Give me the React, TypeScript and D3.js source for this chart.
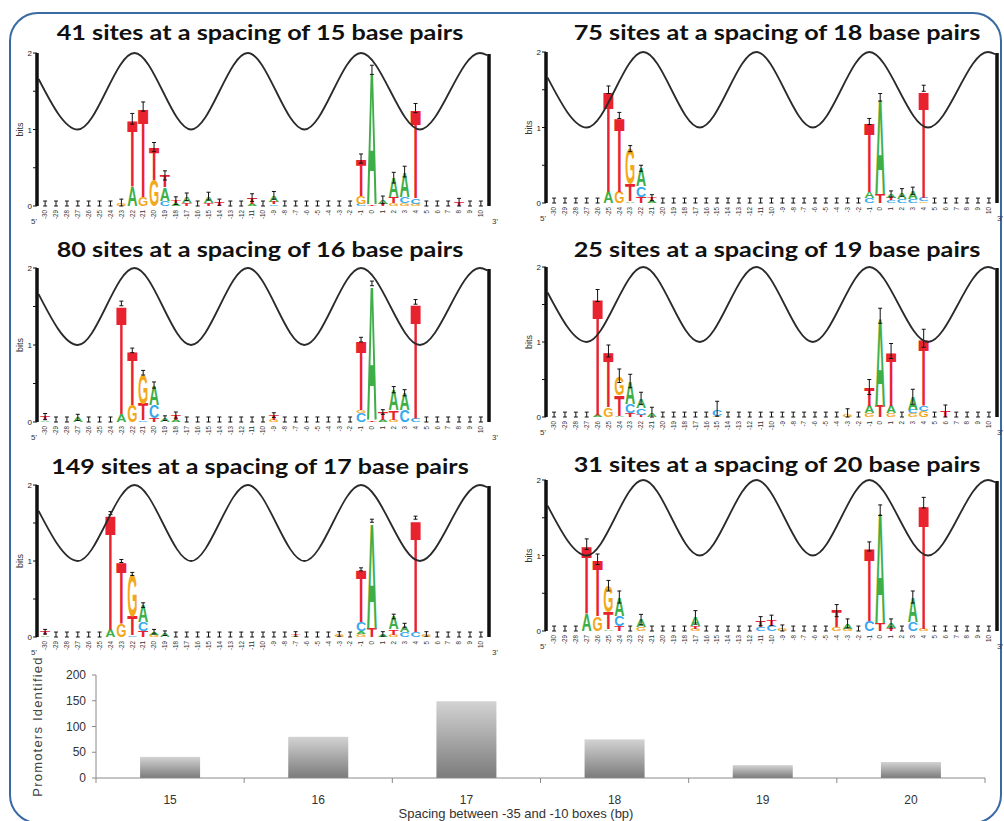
import React from 'react';
import * as d3 from 'd3';

// one logo column: [position, letters bottom->top as [base, bits], error half-length]
type Col = [number, [string, number][], number];

const positions = [-30, -29, -28, -27, -26, -25, -24, -23, -22, -21, -20, -19, -18, -17, -16, -15, -14, -13, -12, -11,
  -10, -9, -8, -7, -6, -5, -4, -3, -2, -1, 0, 1, 2, 3, 4, 5, 6, 7, 8, 9, 10];

// helix phase curve: extrema [position, bits]
const helixPoints: [number, number][] = [
  [-30.6, 1.66], [-27.0, 1.0], [-21.8, 2.0], [-16.6, 1.0], [-11.4, 2.0],
  [-6.2, 1.0], [-1.0, 2.0], [4.4, 1.0], [9.9, 2.0], [10.6, 1.97],
];

const logo15: Col[] = [
  [-23, [['G', 0.04]], 0.05],
  [-22, [['A', 0.25], ['T', 0.89]], 0.07],
  [-21, [['G', 0.12], ['T', 1.18]], 0.06],
  [-20, [['G', 0.34], ['T', 0.43]], 0.06],
  [-19, [['C', 0.07], ['A', 0.18], ['T', 0.15]], 0.06],
  [-18, [['A', 0.04], ['T', 0.03]], 0.05],
  [-17, [['T', 0.04], ['A', 0.08]], 0.05],
  [-15, [['T', 0.04], ['A', 0.09]], 0.05],
  [-14, [['T', 0.05]], 0.04],
  [-11, [['A', 0.03], ['T', 0.08]], 0.05],
  [-9, [['C', 0.02], ['T', 0.03], ['A', 0.09]], 0.05],
  [-1, [['C', 0.03], ['G', 0.1], ['T', 0.49]], 0.06],
  [0, [['T', 0.02], ['A', 1.76]], 0.06],
  [1, [['T', 0.03], ['A', 0.05]], 0.05],
  [2, [['G', 0.04], ['T', 0.08], ['A', 0.25]], 0.07],
  [3, [['G', 0.04], ['C', 0.08], ['A', 0.33]], 0.07],
  [4, [['G', 0.03], ['C', 0.07], ['T', 1.18]], 0.06],
  [8, [['T', 0.05]], 0.05],
];

const logo18: Col[] = [
  [-25, [['A', 0.15], ['T', 1.35]], 0.05],
  [-24, [['G', 0.15], ['T', 1.01]], 0.04],
  [-23, [['A', 0.02], ['T', 0.23], ['G', 0.47]], 0.04],
  [-22, [['T', 0.08], ['C', 0.14], ['A', 0.24]], 0.04],
  [-21, [['A', 0.04], ['T', 0.03]], 0.04],
  [-1, [['C', 0.07], ['A', 0.08], ['T', 0.93]], 0.04],
  [0, [['T', 0.12], ['A', 1.28]], 0.05],
  [1, [['C', 0.04], ['T', 0.03], ['A', 0.05]], 0.04],
  [2, [['C', 0.05], ['A', 0.09]], 0.05],
  [3, [['C', 0.05], ['A', 0.11]], 0.05],
  [4, [['G', 0.02], ['C', 0.05], ['T', 1.45]], 0.04],
];

const logo16: Col[] = [
  [-30, [['A', 0.02], ['T', 0.05]], 0.04],
  [-27, [['A', 0.06]], 0.04],
  [-23, [['A', 0.1], ['T', 1.44]], 0.03],
  [-22, [['G', 0.22], ['T', 0.71]], 0.03],
  [-21, [['C', 0.02], ['T', 0.22], ['G', 0.4]], 0.03],
  [-20, [['T', 0.05], ['C', 0.17], ['A', 0.26]], 0.04],
  [-19, [['A', 0.05]], 0.03],
  [-18, [['A', 0.03], ['T', 0.06]], 0.04],
  [-9, [['G', 0.03], ['T', 0.06]], 0.03],
  [-1, [['C', 0.12], ['G', 0.03], ['T', 0.92]], 0.03],
  [0, [['T', 0.02], ['A', 1.78]], 0.03],
  [1, [['A', 0.03], ['T', 0.1]], 0.03],
  [2, [['G', 0.03], ['T', 0.12], ['A', 0.27]], 0.04],
  [3, [['C', 0.15], ['A', 0.23]], 0.04],
  [4, [['C', 0.05], ['T', 1.51]], 0.03],
];

const logo19: Col[] = [
  [-26, [['A', 0.03], ['T', 1.59]], 0.08],
  [-25, [['G', 0.13], ['T', 0.75]], 0.08],
  [-24, [['A', 0.02], ['T', 0.28], ['G', 0.25]], 0.09],
  [-23, [['T', 0.05], ['C', 0.13], ['A', 0.3]], 0.09],
  [-22, [['T', 0.03], ['C', 0.09], ['A', 0.13]], 0.08],
  [-21, [['A', 0.05]], 0.08],
  [-15, [['G', 0.02], ['C', 0.09]], 0.1],
  [-3, [['G', 0.03]], 0.08],
  [-1, [['G', 0.05], ['A', 0.1], ['T', 0.25]], 0.1],
  [0, [['T', 0.15], ['A', 1.2]], 0.1],
  [1, [['G', 0.05], ['A', 0.1], ['T', 0.73]], 0.1],
  [3, [['G', 0.05], ['C', 0.05], ['A', 0.17]], 0.1],
  [4, [['G', 0.08], ['C', 0.07], ['T', 0.9]], 0.12],
  [6, [['T', 0.08]], 0.08],
];

const logo17: Col[] = [
  [-30, [['A', 0.02], ['T', 0.05]], 0.03],
  [-24, [['A', 0.1], ['T', 1.53]], 0.02],
  [-23, [['G', 0.18], ['T', 0.82]], 0.02],
  [-22, [['C', 0.02], ['T', 0.26], ['G', 0.55]], 0.02],
  [-21, [['T', 0.08], ['C', 0.12], ['A', 0.22]], 0.03],
  [-20, [['G', 0.03], ['A', 0.04]], 0.03],
  [-19, [['A', 0.05]], 0.03],
  [-7, [['G', 0.02], ['T', 0.02]], 0.03],
  [-3, [['G', 0.04]], 0.03],
  [-1, [['G', 0.04], ['A', 0.04], ['C', 0.12], ['T', 0.69]], 0.02],
  [0, [['T', 0.12], ['A', 1.41]], 0.02],
  [1, [['A', 0.04]], 0.03],
  [2, [['G', 0.03], ['T', 0.07], ['A', 0.17]], 0.03],
  [3, [['C', 0.07], ['A', 0.08]], 0.03],
  [4, [['C', 0.07], ['T', 1.5]], 0.02],
  [5, [['G', 0.04]], 0.03],
];

const logo20: Col[] = [
  [-27, [['A', 0.23], ['T', 0.92]], 0.07],
  [-26, [['G', 0.2], ['T', 0.75]], 0.07],
  [-25, [['A', 0.02], ['T', 0.23], ['G', 0.35]], 0.07],
  [-24, [['T', 0.07], ['C', 0.13], ['A', 0.25]], 0.08],
  [-22, [['G', 0.05], ['A', 0.1]], 0.07],
  [-17, [['G', 0.03], ['T', 0.03], ['A', 0.12]], 0.09],
  [-11, [['C', 0.05], ['T', 0.08]], 0.06],
  [-10, [['C', 0.08], ['T', 0.06]], 0.07],
  [-9, [['G', 0.03]], 0.05],
  [-4, [['G', 0.05], ['T', 0.22]], 0.08],
  [-3, [['G', 0.03], ['A', 0.07]], 0.06],
  [-1, [['C', 0.13], ['T', 0.99]], 0.06],
  [0, [['T', 0.1], ['A', 1.5]], 0.07],
  [1, [['T', 0.04], ['A', 0.06]], 0.06],
  [3, [['C', 0.12], ['A', 0.33]], 0.08],
  [4, [['G', 0.03], ['T', 1.67]], 0.07],
];

const siteCounts = [41, 75, 80, 25, 149, 31];
const panelSpacings = [15, 18, 16, 19, 17, 20];
const panelLogos = [logo15, logo18, logo16, logo19, logo17, logo20];

// bottom bar chart
const spacings = ['15', '16', '17', '18', '19', '20'];
const promoters = [41, 80, 149, 75, 25, 31];
const promoterTicks = [0, 50, 100, 150, 200];

// layout of the six logo panels (pixels)
const frames = [
  { x0: 37, x1: 489, top: 53, bottom: 206, titleX: 260, titleY: 40 },
  { x0: 546, x1: 997, top: 52, bottom: 203, titleX: 777, titleY: 40 },
  { x0: 37, x1: 489, top: 268, bottom: 422, titleX: 260, titleY: 257 },
  { x0: 546, x1: 997, top: 267, bottom: 417, titleX: 777, titleY: 257 },
  { x0: 37, x1: 489, top: 485, bottom: 637, titleX: 260, titleY: 474 },
  { x0: 546, x1: 997, top: 480, bottom: 631, titleX: 777, titleY: 472 },
];

const letterColor: Record<string, string> = { A: '#3dae48', C: '#38a9ee', G: '#f3a81c', T: '#e8222f' };
const advance: Record<string, number> = { A: 0.722, C: 0.722, G: 0.778, T: 0.611 };
const CAP = 0.716;
const FS = 100;
const SANS = "'Liberation Sans', Arial, sans-serif";

function LogoPanel({ idx }: { idx: number }) {
  const f = frames[idx];
  const cols = panelLogos[idx];
  const x = d3.scaleBand<number>().domain(positions).range([f.x0 + 3, f.x1 - 3]).paddingInner(0.06);
  const y = d3.scaleLinear().domain([0, 2]).range([f.bottom, f.top]);
  const xc = (p: number) => (x(p) as number) + x.bandwidth() / 2;
  const xLin = d3.scaleLinear()
    .domain([positions[0], positions[positions.length - 1]])
    .range([xc(positions[0]), xc(positions[positions.length - 1])]);
  const helix = d3.line<[number, number]>()
    .x(d => Math.max(f.x0, Math.min(f.x1, xLin(d[0]))))
    .y(d => y(d[1]))
    .curve(d3.curveMonotoneX);
  const byPos = new Map(cols.map(c => [c[0], c]));
  const bw = x.bandwidth();
  const title = `${siteCounts[idx]} sites at a spacing of ${panelSpacings[idx]} base pairs`;
  const isRight = f.x1 > 900;

  return (
    <g>
      <text x={f.titleX} y={f.titleY} textAnchor="middle" fontFamily="Lato, 'Open Sans', sans-serif"
        fontWeight={700} fontSize={21} fill="#111" textLength={title.length * 10.7}
        lengthAdjust="spacingAndGlyphs">{title}</text>

      {/* letters, error bars and position labels */}
      {positions.map(p => {
        const c = byPos.get(p);
        const center = xc(p);
        let base = 0;
        const letters = c ? c[1].map(([b, h], i) => {
          const y0 = y(base);
          const hPx = y0 - y(base + h);
          base += h;
          const sx = bw / (advance[b] * FS);
          const sy = hPx / (CAP * FS);
          return (
            <text key={i} transform={`translate(${center},${y0}) scale(${sx},${sy})`}
              textAnchor="middle" fontFamily={SANS} fontWeight={700}
              fontSize={FS} fill={letterColor[b]}>{b}</text>
          );
        }) : null;
        const top = c ? base : 0.03;
        const e = c ? c[2] : 0.035;
        const ya = y(Math.max(0, top - e));
        const yb = y(top + e);
        return (
          <g key={p}>
            {letters}
            <line x1={center} x2={center} y1={ya} y2={yb} stroke="#111" strokeWidth={1} />
            <line x1={center - 2} x2={center + 2} y1={yb} y2={yb} stroke="#111" strokeWidth={1} />
            <line x1={center - 2} x2={center + 2} y1={ya} y2={ya} stroke="#111" strokeWidth={1} />
            <text transform={`translate(${center + 2.3},${f.bottom + 4}) rotate(-90)`} textAnchor="end"
              fontFamily={SANS} fontSize={6.3} fill="#333">{p}</text>
          </g>
        );
      })}

      {/* helix curve */}
      <path d={helix(helixPoints) || ''} fill="none" stroke="#2a2a2a" strokeWidth={1.8} />

      {/* axes */}
      <line x1={f.x0} x2={f.x0} y1={f.top} y2={f.bottom} stroke="#111" strokeWidth={3.5} />
      <line x1={f.x1} x2={f.x1} y1={f.top + 1} y2={f.bottom} stroke="#111" strokeWidth={3.5} />
      {[0, 0.5, 1, 1.5, 2].map(t => (
        <line key={t} x1={f.x0 - 4} x2={f.x0} y1={y(t)} y2={y(t)} stroke="#111" strokeWidth={1} />
      ))}
      {[0, 1, 2].map(t => (
        <text key={t} x={f.x0 - 5} y={y(t) + 3} textAnchor="end" fontSize={8}
          fontFamily={SANS} fill="#222">{t}</text>
      ))}
      <text transform={`translate(${f.x0 - 14},${y(1)}) rotate(-90)`} textAnchor="middle" fontSize={9}
        fontFamily={SANS} fill="#333">bits</text>
      <text x={f.x0 - 3} y={f.bottom + 18} textAnchor="middle" fontSize={8}
        fontFamily={SANS} fill="#333">5'</text>
      <text x={isRight ? 1003 : f.x1 + 3} y={f.bottom + 18} textAnchor={isRight ? 'end' : 'start'} fontSize={8}
        fontFamily={SANS} fill="#333">3'</text>
    </g>
  );
}

function BarChart() {
  const x = d3.scaleBand<string>().domain(spacings).range([96, 985]).paddingInner(0.595).paddingOuter(0.2975);
  const y = d3.scaleLinear().domain([0, 200]).range([778, 675]);
  const font = "'Liberation Sans Narrow', 'Liberation Sans', Arial, sans-serif";
  const step = x.step();
  return (
    <g>
      <defs>
        <linearGradient id="barGrad" x1="0" y1="0" x2="0" y2="1">
          <stop offset="0%" stopColor="#d3d3d3" />
          <stop offset="100%" stopColor="#7b7b7b" />
        </linearGradient>
      </defs>
      {spacings.map((s, i) => (
        <rect key={s} x={x(s)} y={y(promoters[i])} width={x.bandwidth()} height={y(0) - y(promoters[i])}
          fill="url(#barGrad)" />
      ))}
      <line x1={96} x2={96} y1={y(200)} y2={y(0)} stroke="#8a8a8a" strokeWidth={1} />
      <line x1={96} x2={985} y1={y(0)} y2={y(0)} stroke="#8a8a8a" strokeWidth={1} />
      {promoterTicks.map(t => (
        <g key={t}>
          <line x1={92} x2={96} y1={y(t)} y2={y(t)} stroke="#8a8a8a" />
          <text x={86} y={y(t) + 4} textAnchor="end" fontSize={12} fontFamily={font} fill="#333">{t}</text>
        </g>
      ))}
      {d3.range(spacings.length + 1).map(i => (
        <line key={i} x1={96 + i * step} x2={96 + i * step} y1={y(0)} y2={y(0) + 5} stroke="#8a8a8a" />
      ))}
      {spacings.map(s => (
        <text key={s} x={(x(s) as number) + x.bandwidth() / 2} y={804} textAnchor="middle" fontSize={12}
          fontFamily={font} fill="#333">{s}</text>
      ))}
      <text x={516} y={818} textAnchor="middle" fontSize={13} fontFamily={font} fill="#333">
        Spacing between -35 and -10 boxes (bp)
      </text>
      <text transform={`translate(42,${y(100)}) rotate(-90)`} textAnchor="middle" fontSize={13}
        letterSpacing={1.2} fontFamily={SANS} fill="#444">Promoters Identified</text>
    </g>
  );
}

export default function App() {
  return (
    <svg width={1004} height={821} style={{ position: 'absolute', left: 0, top: 0, background: '#fff' }}>
      <rect x={10} y={13} width={991} height={810} rx={28} ry={28} fill="#fff" stroke="#3a6aa4" strokeWidth={2} />
      {frames.map((_, i) => <LogoPanel key={i} idx={i} />)}
      <BarChart />
    </svg>
  );
}
